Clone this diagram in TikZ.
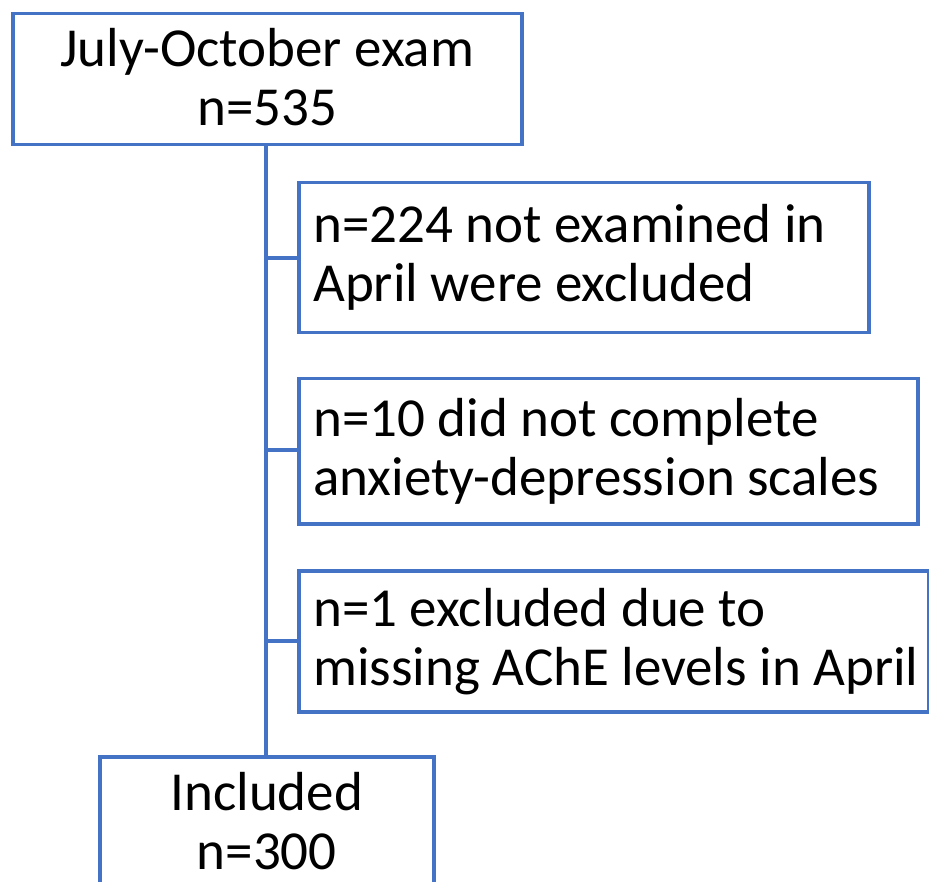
\documentclass[tikz,border=0pt]{standalone}
\usepackage{fontspec}
\setmainfont{Carlito}
\definecolor{boxblue}{HTML}{4472C4}
\begin{document}
\begin{tikzpicture}[x=1pt,y=-1pt,
  box/.style={draw=boxblue,line width=3.5pt,inner sep=0pt,anchor=north west},
  txt/.style={inner sep=0pt,font=\fontsize{55}{59}\selectfont},
  link/.style={draw=boxblue,line width=3.5pt}]
\useasboundingbox (0,0) rectangle (929,882);
\clip (0,0) rectangle (929,882);
\node[box,minimum width=509pt,minimum height=131pt] (top) at (11,12) {};
\node[box,minimum width=570pt,minimum height=150pt] (b1) at (297,181) {};
\node[box,minimum width=619pt,minimum height=145pt] (b2) at (297,377) {};
\node[box,minimum width=630pt,minimum height=141pt] (b3) at (297,569) {};
\node[box,minimum width=334pt,minimum height=136pt] (bot) at (98,755) {};
\node[txt,align=center] (ttop) at ([yshift=2pt]top.center) {July-October exam\\n=535};
\node[txt,align=left,anchor=west] (t1) at ([xshift=16pt]b1.west) {n=224 not examined in\\April were excluded};
\node[txt,align=left,anchor=west] (t2) at ([xshift=16pt]b2.west) {n=10 did not complete\\anxiety-depression scales};
\node[txt,align=left,anchor=west] (t3) at ([xshift=16pt]b3.west) {n=1 excluded due to\\missing AChE levels in April};
\node[txt,align=center] (tbot) at ([yshift=4pt]bot.center) {Included\\n=300};
\coordinate (j1) at (266,258);
\coordinate (j2) at (266,450);
\coordinate (j3) at (266,641);
\draw[link] (top.south -| j1) -- (bot.north -| j1);
\draw[link] (j1) -- (b1.west |- j1);
\draw[link] (j2) -- (b2.west |- j2);
\draw[link] (j3) -- (b3.west |- j3);
\end{tikzpicture}
\end{document}
